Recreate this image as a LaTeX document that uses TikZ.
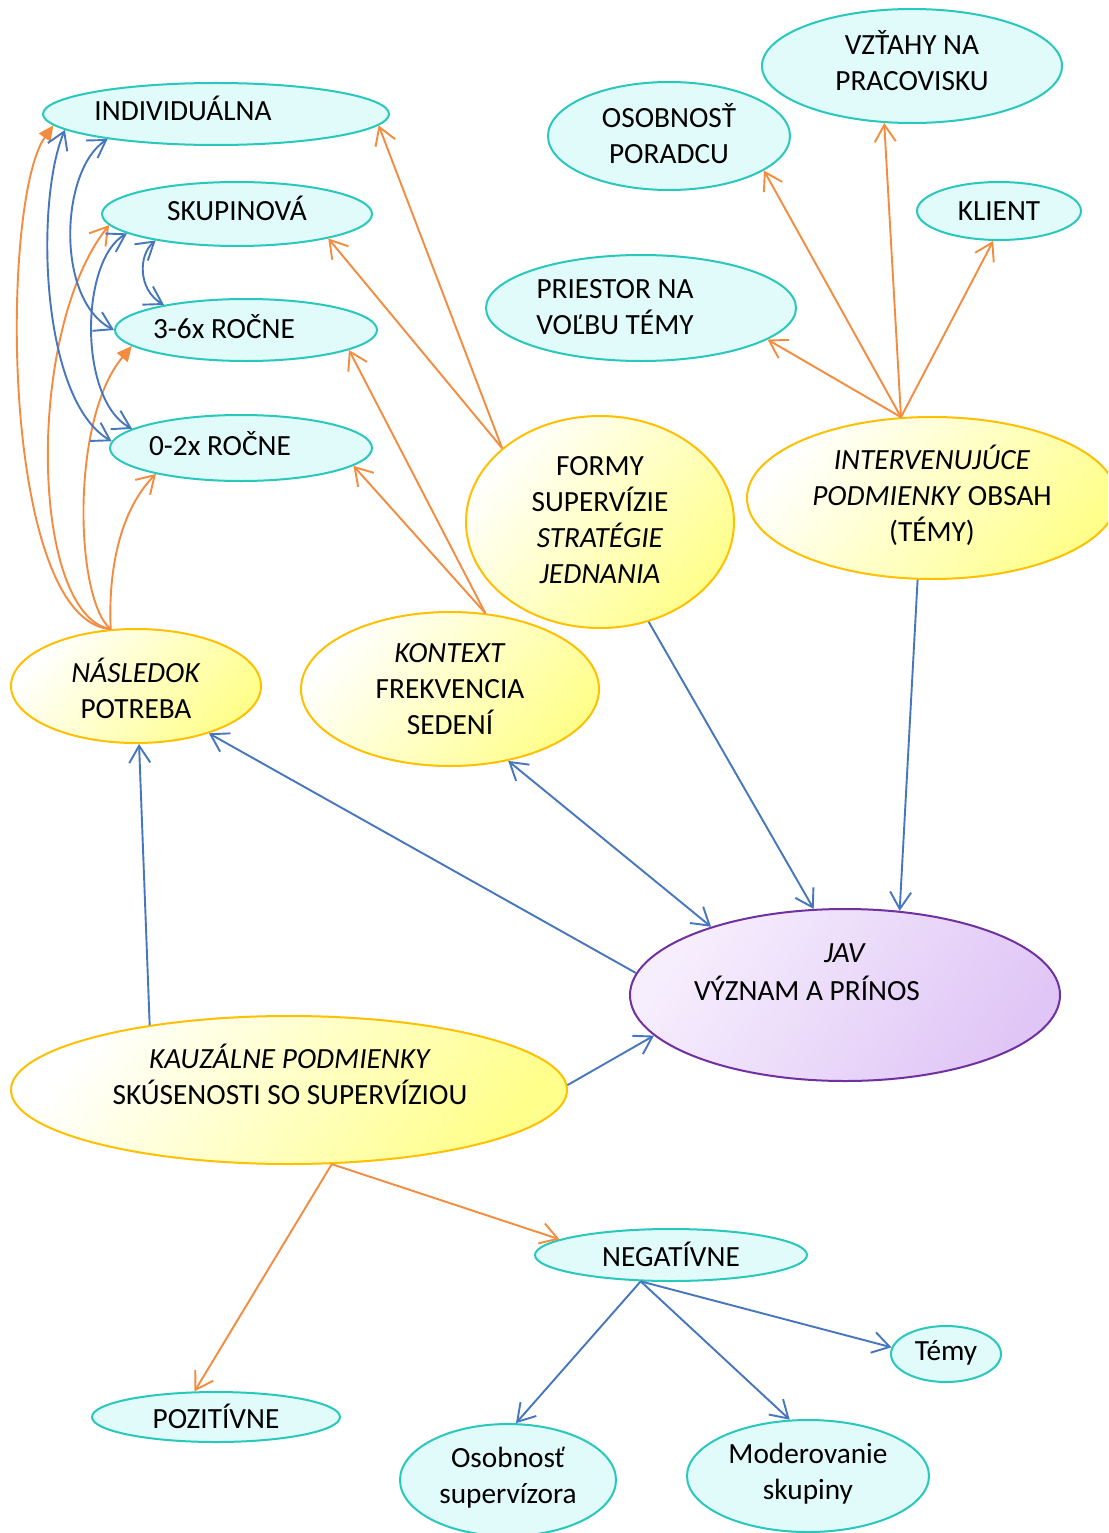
\documentclass[tikz,border=0pt]{standalone}
\usepackage{fontspec}
\setmainfont{Carlito}
\usetikzlibrary{shapes.geometric,arrows.meta}
\definecolor{tealb}{RGB}{40,200,188}
\definecolor{tealf}{RGB}{224,251,250}
\definecolor{yelb}{RGB}{255,192,0}
\definecolor{yelf}{RGB}{255,255,140}
\definecolor{purb}{RGB}{112,48,160}
\definecolor{purl}{RGB}{246,238,253}
\definecolor{purd}{RGB}{224,198,246}
\definecolor{orl}{RGB}{243,140,62}
\definecolor{bll}{RGB}{70,118,190}
\begin{document}
\begin{tikzpicture}[x=1pt,y=-1pt,
  ell/.style={ellipse, inner sep=0pt, line width=2pt},
  tealell/.style={ell, draw=tealb, fill=tealf},
  yelell/.style={ell, draw=yelb, shading=axis, left color=white, right color=yelf, shading angle=50},
  purell/.style={ell, draw=purb, shading=axis, left color=purl, right color=purd, shading angle=55},
  lbl/.style={font=\fontsize{29.3}{36}\selectfont, align=center, inner sep=0pt},
  obarb/.style={draw=orl, line width=1.9pt, -{Straight Barb[length=17pt,width=21pt]}},
  otri/.style={draw=orl, line width=1.9pt, -{Triangle[length=15pt,width=14pt]}},
  bbarb/.style={draw=bll, line width=1.9pt, -{Straight Barb[length=17pt,width=21pt]}},
  bbarbb/.style={draw=bll, line width=1.9pt, {Straight Barb[length=17pt,width=21pt]}-{Straight Barb[length=17pt,width=21pt]}}
]
\clip (0,0) rectangle (1108,1533);
\fill[white] (0,0) rectangle (1108,1533);

% ellipses
\node[tealell, minimum width=346pt, minimum height=62pt] (indiv) at (216,114) {};
\node[tealell, minimum width=270pt, minimum height=64pt] (skup) at (237,214) {};
\node[tealell, minimum width=262pt, minimum height=62pt] (r36) at (246,330) {};
\node[tealell, minimum width=262pt, minimum height=66pt] (r02) at (241,448) {};
\node[tealell, minimum width=242pt, minimum height=108pt] (osob) at (669,136) {};
\node[tealell, minimum width=300pt, minimum height=114pt] (vzt) at (912,66) {};
\node[tealell, minimum width=164pt, minimum height=58pt] (klient) at (999,211) {};
\node[tealell, minimum width=310pt, minimum height=106pt] (priestor) at (641,308) {};
\node[yelell, minimum width=268pt, minimum height=212pt] (formy) at (600,522) {};
\node[yelell, minimum width=370pt, minimum height=162pt] (interv) at (932,498) {};
\node[yelell, minimum width=250pt, minimum height=114pt] (nasl) at (136,686) {};
\node[yelell, minimum width=298pt, minimum height=154pt] (kontext) at (450,689) {};
\node[purell, minimum width=430pt, minimum height=172pt] (jav) at (845,995) {};
\node[yelell, minimum width=556pt, minimum height=148pt] (kauz) at (289,1090) {};
\node[tealell, minimum width=272pt, minimum height=52pt] (neg) at (671,1255) {};
\node[tealell, minimum width=110pt, minimum height=56pt] (temy) at (946,1354) {};
\node[tealell, minimum width=248pt, minimum height=50pt] (pozit) at (216,1417) {};
\node[tealell, minimum width=216pt, minimum height=112pt] (osup) at (508,1480) {};
\node[tealell, minimum width=242pt, minimum height=112pt] (moder) at (808,1476) {};

% labels
\node[lbl] (tindiv) at (183,108) {INDIVIDUÁLNA};
\node[lbl] (tskup) at (237,208) {SKUPINOVÁ};
\node[lbl] (tr36) at (224,327) {3-6x ROČNE};
\node[lbl] (tr02) at (220,444) {0-2x ROČNE};
\node[lbl] (tosob) at (669,134) {OSOBNOSŤ\\PORADCU};
\node[lbl] (tvzt) at (912,61) {VZŤAHY NA\\PRACOVISKU};
\node[lbl] (tklient) at (999,211) {KLIENT};
\node[lbl] (tpriestor) at (615,307) {PRIESTOR NA\\VOĽBU TÉMY};
\node[lbl] (tformy) at (600,520) {FORMY\\SUPERVÍZIE\\\textit{STRATÉGIE}\\\textit{JEDNANIA}};
\node[lbl] (tinterv) at (932,495) {\textit{INTERVENUJÚCE}\\\textit{PODMIENKY} OBSAH\\(TÉMY)};
\node[lbl] (tnasl) at (136,688) {\textit{NÁSLEDOK}\\POTREBA};
\node[lbl] (tkontext) at (450,689) {\textit{KONTEXT}\\FREKVENCIA\\SEDENÍ};
\node[lbl] (tjav1) at (845,953) {\textit{JAV}};
\node[lbl] (tjav2) at (807,988) {VÝZNAM A PRÍNOS};
\node[lbl] (tkauz) at (290,1074) {\textit{KAUZÁLNE PODMIENKY}\\SKÚSENOSTI SO SUPERVÍZIOU};
\node[lbl] (tneg) at (671,1254) {NEGATÍVNE};
\node[lbl] (ttemy) at (946,1353) {Témy};
\node[lbl] (tpozit) at (216,1416) {POZITÍVNE};
\node[lbl] (tosup) at (508,1478) {Osobnosť\\supervízora};
\node[lbl] (tmoder) at (808,1474) {Moderovanie\\skupiny};

% orange straight
\draw[obarb] (formy.143.4) -- (indiv.-4.3);
\draw[obarb] (formy.143.4) -- (skup.-15.9);
\draw[obarb] (kontext.65.6) -- (r36.-11.4);
\draw[obarb] (kontext.65.6) -- (r02.-9.4);
\draw[obarb] (interv.111) -- (priestor.-14.8);
\draw[obarb] (interv.111) -- (osob.-20.6);
\draw[obarb] (interv.111) -- (vzt.-116.2);
\draw[obarb] (interv.111) -- (klient.-101.7);
\draw[obarb] (kauz.-60.7) -- (neg.172.3);
\draw[obarb] (kauz.-60.7) -- (pozit.130);

% orange curves from NASLEDOK
\draw[otri] (nasl.114) .. controls (0,620) and (0,200) .. (indiv.184.5);
\draw[obarb] (nasl.114) .. controls (30,615) and (25,330) .. (skup.185);
\draw[otri] (nasl.114) .. controls (75,600) and (70,420) .. (r36.188.1);
\draw[obarb] (nasl.114) .. controls (108,570) and (120,510) .. (r02.197.8);

% blue curves
\draw[bbarbb] (indiv.186.8) .. controls (35,200) and (40,400) .. (r02.177.3);
\draw[bbarbb] (indiv.193) .. controls (60,170) and (55,300) .. (r36.180);
\draw[bbarbb] (skup.190.8) .. controls (80,260) and (78,400) .. (r02.170.2);
\draw[bbarbb] (skup.198.7) .. controls (138,255) and (138,290) .. (r36.163.9);

% blue straight
\draw[bbarb] (jav.174.6) -- (nasl.-33.1);
\draw[bbarbb] (kontext.-51.2) -- (jav.153.3);
\draw[bbarb] (formy.-64.2) -- (jav.110.1);
\draw[bbarb] (interv.-100.4) -- (jav.57.7);
\draw[bbarb] (kauz.155.1) -- (nasl.-87.2);
\draw[bbarb] (kauz.1.66) -- (jav.192);
\draw[bbarb] (neg.-139.4) -- (osup.82.9);
\draw[bbarb] (neg.-139.4) -- (moder.108.1);
\draw[bbarb] (neg.-139.4) -- (temy.173.7);
\end{tikzpicture}
\end{document}
